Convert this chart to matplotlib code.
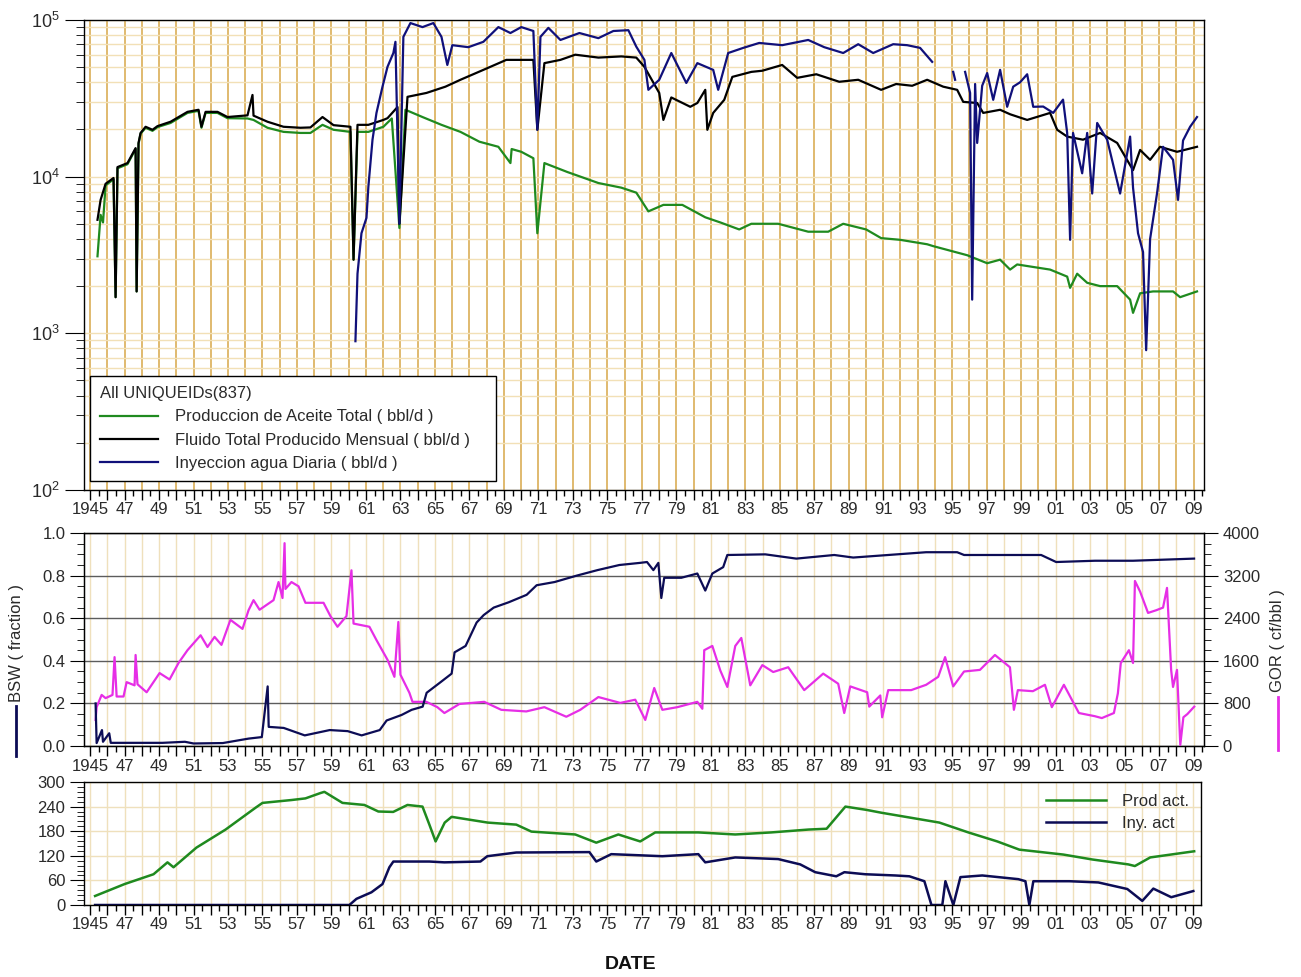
import matplotlib
matplotlib.use("Agg")
import numpy as np
import matplotlib.pyplot as plt
from matplotlib.ticker import MultipleLocator, FuncFormatter, LogLocator, NullFormatter
from matplotlib.lines import Line2D

plt.rcParams['font.family'] = ['Liberation Sans', 'DejaVu Sans']
plt.rcParams['mathtext.default'] = 'regular'

nan = np.nan

# ---- panel 1 : rates (bbl/d), log scale
oil_years = [1945.43, 1945.61, 1945.75, 1945.90, 1946.36, 1946.48, 1946.59, 1947.17, 1947.64, 1947.70,
             1947.81, 1947.93, 1948.22, 1948.62, 1948.91, 1949.67, 1950.65, 1951.29, 1951.46, 1951.70,
             1952.39, 1952.97, 1954.13, 1954.48, 1955.29, 1956.22, 1957.20, 1957.78, 1958.48, 1959.12,
             1960.10, 1960.28, 1960.51, 1961.14, 1962.01, 1962.50, 1962.94, 1963.29, 1964.28, 1965.38,
             1966.48, 1967.58, 1968.68, 1969.38, 1969.45, 1970.01, 1970.71, 1970.94, 1971.35, 1972.68,
             1974.48, 1975.81, 1976.68, 1977.38, 1978.25, 1979.35, 1980.68, 1981.55, 1982.65, 1983.35,
             1984.91, 1986.65, 1987.81, 1988.68, 1990.01, 1990.88, 1991.98, 1993.55, 1993.90, 1995.87,
             1997.03, 1997.78, 1998.36, 1998.77, 1999.70, 2000.68, 2001.67, 2001.84, 2002.25, 2002.83,
             2003.58, 2004.57, 2005.32, 2005.49, 2005.90, 2006.65, 2007.81, 2008.22, 2009.20]
oil_rate = [3100, 5700, 5100, 8800, 9600, 1700, 11300, 12000, 15000, 1850,
            16200, 18800, 20500, 19600, 20700, 22000, 25500, 26300, 20500, 25500,
            25500, 23600, 23500, 23000, 20500, 19300, 19000, 19000, 21400, 19900,
            19300, 2950, 19300, 19300, 20800, 23500, 4700, 26700, 24000, 21400,
            19300, 16700, 15500, 12200, 15000, 14400, 13100, 4350, 12200, 10700,
            9100, 8500, 7900, 6000, 6600, 6600, 5500, 5100, 4600, 5000,
            5000, 4450, 4450, 5000, 4600, 4050, 3950, 3700, 3600, 3150,
            2800, 2950, 2550, 2750, 2650, 2550, 2300, 1950, 2400, 2100,
            2000, 2000, 1640, 1350, 1800, 1850, 1850, 1700, 1850]

fluid_years = [1945.43, 1945.61, 1945.90, 1946.36, 1946.48, 1946.59, 1947.17, 1947.64, 1947.70, 1947.81,
               1947.93, 1948.22, 1948.62, 1948.91, 1949.67, 1950.65, 1951.29, 1951.46, 1951.70, 1952.39,
               1952.97, 1954.13, 1954.42, 1954.48, 1955.29, 1956.22, 1957.20, 1957.78, 1958.48, 1959.12,
               1960.10, 1960.28, 1960.51, 1961.14, 1962.01, 1962.25, 1962.83, 1962.94, 1963.41, 1964.51,
               1965.61, 1966.48, 1967.81, 1969.14, 1970.01, 1970.71, 1970.94, 1971.35, 1972.28, 1973.14,
               1974.48, 1975.81, 1976.68, 1977.15, 1978.01, 1978.25, 1978.71, 1979.81, 1980.22, 1980.68,
               1980.80, 1981.14, 1981.78, 1982.25, 1983.35, 1983.99, 1985.14, 1986.01, 1987.12, 1988.45,
               1989.55, 1990.88, 1991.75, 1992.68, 1993.55, 1994.48, 1995.29, 1995.64, 1996.45, 1996.80,
               1997.78, 1998.36, 1999.35, 2000.68, 2001.09, 2001.67, 2002.59, 2003.58, 2004.57, 2005.49,
               2005.90, 2006.48, 2007.06, 2008.04, 2009.20]
fluid_rate = [5300, 7100, 9000, 9800, 1700, 11500, 12200, 15200, 1850, 16400,
              19000, 20800, 19900, 21000, 22400, 25900, 26700, 20800, 25900, 25900,
              24000, 24600, 33200, 24500, 22400, 20800, 20500, 20600, 24000, 21300,
              20800, 2950, 21400, 21400, 23000, 23600, 27800, 5000, 32300, 34200,
              37500, 41500, 48000, 55600, 55600, 55600, 19900, 53000, 55600, 60000,
              57500, 58500, 57500, 50200, 34200, 23000, 32000, 27900, 29500, 35800,
              19900, 25500, 30900, 43300, 46600, 47400, 51600, 42700, 45000, 40300,
              41500, 35800, 39000, 38000, 41500, 37500, 35800, 30000, 29500, 25500,
              26700, 25000, 23000, 25500, 19900, 18000, 17200, 19000, 16400, 11000,
              14800, 12800, 15500, 14400, 15500]

inj_years = [1960.39, 1960.51, 1960.74, 1961.03, 1961.14, 1961.38, 1961.61, 1961.96, 1962.25, 1962.59,
             1962.71, 1962.94, 1963.17, 1963.58, 1964.28, 1964.91, 1965.38, 1965.72, 1966.01, 1966.94,
             1967.81, 1968.68, 1969.38, 1970.01, 1970.71, 1970.94, 1971.12, 1971.58, 1972.28, 1973.38,
             1974.48, 1975.35, 1976.22, 1976.68, 1977.15, 1977.38, 1978.01, 1978.71, 1979.58, 1980.22,
             1981.14, 1981.43, 1982.01, 1982.88, 1983.81, 1985.14, 1986.65, 1987.58, 1988.68, 1989.55,
             1990.42, 1991.58, 1992.39, 1993.14, 1993.84, nan, 1995.06, 1995.17, nan,
             1995.75, 1996.04, 1996.16, 1996.33, 1996.45, 1996.74, 1997.03, 1997.38, 1997.78, 1998.19,
             1998.54, 1998.94, 1999.35, 1999.70, 2000.28, 2000.86, 2001.43, 2001.67, 2001.84, 2002.01,
             2002.54, 2002.83, 2003.12, 2003.41, 2003.99, 2004.74, 2005.32, 2005.49, 2005.78, 2006.07,
             2006.25, 2006.48, 2006.88, 2007.23, 2007.81, 2008.10, 2008.39, 2008.80, 2009.20]
inj_rate = [890, 2400, 4350, 5450, 8600, 17200, 25500, 37500, 50200, 61500,
            72500, 5000, 78000, 95500, 90000, 95500, 78000, 51600, 69000, 67000,
            72500, 90000, 82500, 90000, 85000, 19900, 78000, 89000, 74500, 82500,
            76500, 85000, 86000, 67500, 55600, 35800, 41500, 61500, 39600, 53000,
            48000, 35800, 61500, 66300, 71300, 69000, 74500, 67000, 61500, 70000,
            61500, 70000, 69000, 66300, 54000, nan, 46600, 41500, nan,
            46600, 34200, 1640, 39000, 16400, 38000, 45800, 30900, 48000, 27900,
            37500, 40000, 45000, 27900, 28000, 25500, 31000, 19000, 3950, 19000,
            10500, 19000, 7800, 22000, 17200, 7800, 18000, 8500, 4350, 3300,
            780, 4000, 7800, 15500, 12800, 7100, 17000, 20800, 24000]

# ---- panel 2 : BSW (fraction) and GOR (cf/bbl)
bsw_years = [1945.32, 1945.38, 1945.69, 1945.75, 1946.11, 1946.20, 1949.20, 1950.50, 1951.00, 1952.70,
             1953.70, 1954.20, 1954.96, 1955.30, 1955.36, 1956.23, 1957.45, 1958.90, 1959.94, 1960.75,
             1961.80, 1962.20, 1963.07, 1963.65, 1964.29, 1964.52, 1965.33, 1965.97, 1966.14, 1966.78,
             1967.42, 1967.83, 1968.41, 1969.28, 1970.32, 1970.90, 1971.94, 1973.22, 1974.43, 1975.70,
             1976.90, 1977.30, 1977.67, 1977.96, 1978.13, 1978.30, 1979.29, 1980.22, 1980.68, 1981.09,
             1981.72, 1981.96, 1984.16, 1985.96, 1988.16, 1989.26, 1993.49, 1995.29, 1995.69, 2000.16,
             2001.03, 2003.29, 2005.49, 2009.03]
bsw = [0.20, 0.014, 0.075, 0.02, 0.06, 0.015, 0.015, 0.02, 0.012, 0.014,
       0.028, 0.035, 0.042, 0.28, 0.09, 0.085, 0.05, 0.075, 0.07, 0.05,
       0.075, 0.12, 0.146, 0.17, 0.185, 0.25, 0.30, 0.34, 0.44, 0.47,
       0.58, 0.615, 0.65, 0.675, 0.71, 0.755, 0.77, 0.80, 0.826, 0.85,
       0.86, 0.864, 0.826, 0.86, 0.695, 0.79, 0.79, 0.81, 0.73, 0.81,
       0.84, 0.897, 0.90, 0.88, 0.897, 0.885, 0.91, 0.91, 0.897, 0.897,
       0.864, 0.87, 0.87, 0.88]

gor_years = [1945.32, 1945.38, 1945.67, 1945.90, 1946.30, 1946.42, 1946.54, 1946.94, 1947.12, 1947.58,
             1947.64, 1947.75, 1948.28, 1949.03, 1949.61, 1950.13, 1950.65, 1951.41, 1951.81, 1952.22,
             1952.62, 1953.14, 1953.84, 1954.19, 1954.48, 1954.83, 1955.64, 1955.93, 1956.16, 1956.28,
             1956.33, 1956.68, 1957.09, 1957.49, 1958.54, 1958.94, 1959.35, 1959.87, 1960.16, 1960.28,
             1961.20, 1961.61, 1962.25, 1962.65, 1962.88, 1963.00, 1963.52, 1963.70, 1964.51, 1965.14,
             1965.55, 1966.42, 1967.86, 1968.85, 1970.30, 1971.35, 1972.62, 1973.43, 1974.48, 1975.75,
             1976.62, 1977.20, 1977.72, 1978.19, 1979.06, 1980.22, 1980.51, 1980.62, 1981.09, 1981.55,
             1981.96, 1982.42, 1982.77, 1983.29, 1983.99, 1984.62, 1985.49, 1986.42, 1987.52, 1988.39,
             1988.74, 1989.09, 1990.07, 1990.19, 1990.83, 1990.94, 1991.29, 1992.62, 1993.49, 1994.19,
             1994.59, 1995.06, 1995.69, 1996.61, 1997.48, 1998.35, 1998.58, 1998.81, 1999.68, 2000.38,
             2000.78, 2001.48, 2002.35, 2003.28, 2003.68, 2004.38, 2004.61, 2004.78, 2005.25, 2005.49,
             2005.60, 2005.90, 2006.36, 2006.83, 2007.23, 2007.46, 2007.70, 2007.81, 2008.04, 2008.23,
             2008.41, 2008.64, 2009.04]
gor = [490, 730, 960, 900, 960, 1670, 930, 930, 1200, 1140,
       1710, 1160, 1010, 1370, 1250, 1560, 1800, 2080, 1860, 2050,
       1900, 2370, 2200, 2550, 2740, 2560, 2740, 3080, 2780, 3810,
       2950, 3080, 3000, 2690, 2690, 2440, 2240, 2440, 3300, 2300,
       2240, 1990, 1620, 1300, 2330, 1340, 1000, 830, 830, 730,
       620, 790, 830, 680, 650, 730, 550, 680, 920, 810,
       870, 490, 1090, 680, 730, 830, 700, 1800, 1880, 1420,
       1110, 1880, 2030, 1140, 1520, 1390, 1480, 1050, 1360, 1170,
       620, 1120, 1010, 740, 950, 540, 1050, 1050, 1150, 1300,
       1670, 1120, 1400, 1430, 1710, 1480, 680, 1050, 1030, 1150,
       730, 1150, 620, 560, 525, 620, 990, 1560, 1800, 1560,
       3100, 2900, 2500, 2550, 2600, 2970, 1430, 1110, 1430, 20,
       540, 600, 740]

# ---- panel 3 : active wells
prod_years = [1945.29, 1947.00, 1948.68, 1949.49, 1949.84, 1951.17, 1952.86, 1954.59, 1955.00, 1956.68,
              1957.49, 1958.36, 1958.59, 1959.64, 1960.91, 1961.72, 1962.58, 1963.41, 1964.28, 1964.68,
              1965.04, 1965.57, 1965.97, 1968.06, 1969.72, 1970.60, 1973.14, 1974.36, 1975.64, 1976.91,
              1977.78, 1980.28, 1982.42, 1984.51, 1986.67, 1987.72, 1988.81, 1990.03, 1990.90, 1992.58,
              1994.26, 1995.94, 1997.62, 1998.90, 2001.45, 2003.13, 2005.22, 2005.60, 2006.49, 2009.04]
prod_act = [22, 51, 75, 104, 92, 140, 184, 237, 249, 256,
            260, 273, 276, 249, 244, 228, 227, 244, 240, 196,
            155, 201, 215, 201, 196, 179, 172, 152, 172, 155,
            177, 177, 172, 177, 184, 186, 240, 232, 225, 213,
            201, 177, 155, 135, 123, 111, 99, 95, 116, 131]

iny_years = [1945.29, 1960.04, 1960.45, 1961.32, 1961.96, 1962.36, 1962.59, 1964.68, 1965.55, 1967.64,
             1968.04, 1969.72, 1973.96, 1974.36, 1975.23, 1978.19, 1980.28, 1980.68, 1982.42, 1984.91,
             1986.19, 1987.06, 1988.28, 1988.75, 1989.96, 1991.71, 1992.52, 1993.39, 1993.80, 1994.43,
             1994.61, 1995.07, 1995.48, 1996.75, 1998.84, 1999.25, 1999.48, 1999.71, 2001.80, 2003.48,
             2005.16, 2006.03, 2006.67, 2007.71, 2008.99]
iny_act = [0, 0, 15, 31, 51, 92, 106, 106, 104, 106,
           119, 128, 129, 106, 124, 119, 124, 104, 116, 112,
           99, 80, 70, 80, 75, 72, 70, 58, 0, 0,
           58, 0, 68, 72, 63, 58, 0, 58, 58, 55,
           39, 10, 40, 19, 34]

# colores
GREEN = '#1f8a1f'
NAVY = '#10107a'
DARKNAVY = '#0c0c55'
MAGENTA = '#e62ee6'
GRID_DARK = '#ddb463'
GRID_LIGHT = '#efe0bc'
TXT = '#2a2a2a'


def year_label(v, pos):
    y = int(round(v))
    if y % 2 == 0:
        return ''
    if y == 1945:
        return '1945'
    return '%02d' % (y % 100)


def setup_xaxis(ax, xmax, gridcolor, gridlw):
    ax.set_xlim(1944.65, xmax)
    ax.xaxis.set_major_locator(MultipleLocator(1))
    ax.xaxis.set_minor_locator(MultipleLocator(0.5))
    ax.xaxis.set_major_formatter(FuncFormatter(year_label))
    ax.tick_params(axis='x', which='major', direction='out', length=7, width=1,
                   labelsize=12, labelcolor=TXT, pad=2)
    ax.tick_params(axis='x', which='minor', direction='out', length=4, width=1)
    ax.grid(True, axis='x', which='major', color=gridcolor, lw=gridlw)
    for s in ax.spines.values():
        s.set_color('black')
        s.set_linewidth(1.0)
    ax.set_axisbelow(True)


fig = plt.figure(figsize=(13.01, 9.77), dpi=100)

# ---------------- top panel
ax1 = fig.add_axes([0.0646, 0.4985, 0.8609, 0.4811])
ax1.set_yscale('log')
ax1.set_ylim(100, 100000)
ax1.plot(oil_years, oil_rate, color=GREEN, lw=1.6, label='Produccion de Aceite Total ( bbl/d )')
ax1.plot(fluid_years, fluid_rate, color='black', lw=1.6, label='Fluido Total Producido Mensual ( bbl/d )')
ax1.plot(inj_years, inj_rate, color=NAVY, lw=1.6, label='Inyeccion agua Diaria ( bbl/d )')
setup_xaxis(ax1, 2009.61, GRID_DARK, 1.3)
ax1.yaxis.set_major_locator(LogLocator(base=10))
ax1.yaxis.set_minor_locator(LogLocator(base=10, subs=range(2, 10)))
ax1.yaxis.set_major_formatter(FuncFormatter(lambda v, p: r'$10^{%d}$' % round(np.log10(v))))
ax1.yaxis.set_minor_formatter(NullFormatter())
ax1.tick_params(axis='y', which='major', direction='out', length=14, labelsize=13, labelcolor=TXT)
ax1.tick_params(axis='y', which='minor', direction='out', length=6)
ax1.grid(True, axis='y', which='both', color='#f2e0b6', lw=1.0)

leg = ax1.legend(title='All UNIQUEIDs(837)', loc='lower left',
                 bbox_to_anchor=(0.0054, 0.019, 0.3625, 0.2), mode='expand', borderaxespad=0,
                 frameon=True, fancybox=False, edgecolor='black', framealpha=1,
                 fontsize=12, title_fontsize=12, handlelength=3.5, handletextpad=1.0,
                 labelspacing=0.5, borderpad=0.6, alignment='left')
leg.get_frame().set_linewidth(1.0)
for t in leg.get_texts():
    t.set_color(TXT)
leg.get_title().set_color(TXT)

# ---------------- middle panel
ax2 = fig.add_axes([0.0646, 0.2364, 0.8609, 0.2180])
ax2.set_ylim(0, 1.0)
setup_xaxis(ax2, 2009.61, GRID_LIGHT, 1.0)
ax2.yaxis.set_major_locator(MultipleLocator(0.2))
ax2.yaxis.set_minor_locator(MultipleLocator(0.05))
ax2.yaxis.set_major_formatter(FuncFormatter(lambda v, p: '%.1f' % v))
ax2.tick_params(axis='y', which='major', direction='out', length=10, labelsize=12, labelcolor=TXT)
ax2.tick_params(axis='y', which='minor', direction='out', length=5)
ax2.grid(True, axis='y', which='major', color='#5c5c5c', lw=1.0)

ax2r = ax2.twinx()
ax2r.set_ylim(0, 4000)
ax2r.yaxis.set_major_locator(MultipleLocator(800))
ax2r.yaxis.set_minor_locator(MultipleLocator(200))
ax2r.tick_params(axis='y', which='major', direction='out', length=10, labelsize=12, labelcolor=TXT)
ax2r.tick_params(axis='y', which='minor', direction='out', length=5)
ax2r.plot(gor_years, gor, color=MAGENTA, lw=1.6)
ax2r.plot(bsw_years, np.array(bsw) * 4000, color=DARKNAVY, lw=1.6)

fig.text(0.0123, 0.2815, 'BSW ( fraction )', rotation=90, ha='center', va='bottom',
         fontsize=12, color=TXT)
fig.add_artist(Line2D([0.0123, 0.0123], [0.2262, 0.2774], color=DARKNAVY, lw=2.0))
fig.text(0.9823, 0.2917, 'GOR ( cf/bbl )', rotation=90, ha='center', va='bottom',
         fontsize=12, color=TXT)
fig.add_artist(Line2D([0.9823, 0.9823], [0.2323, 0.2866], color=MAGENTA, lw=2.0))

# ---------------- bottom panel
ax3 = fig.add_axes([0.0646, 0.0737, 0.8586, 0.1259])
ax3.set_ylim(0, 300)
setup_xaxis(ax3, 2009.44, GRID_LIGHT, 1.0)
ax3.yaxis.set_major_locator(MultipleLocator(60))
ax3.yaxis.set_minor_locator(MultipleLocator(12))
ax3.tick_params(axis='y', which='major', direction='out', length=10, labelsize=12, labelcolor=TXT)
ax3.tick_params(axis='y', which='minor', direction='out', length=5)
ax3.grid(True, axis='y', which='major', color=GRID_LIGHT, lw=1.0)
ax3.plot(prod_years, prod_act, color=GREEN, lw=1.8, label='Prod act.')
ax3.plot(iny_years, iny_act, color=DARKNAVY, lw=1.8, label='Iny. act')
leg3 = ax3.legend(loc='upper right', frameon=False, fontsize=12, handlelength=3.6,
                  handletextpad=1.0, labelspacing=0.45, borderaxespad=0.3)
for t in leg3.get_texts():
    t.set_color(TXT)

fig.text(0.485, 0.0123, 'DATE', ha='center', va='center', fontsize=14,
         fontweight='bold', color='#111111')

fig.savefig('out.png', dpi=100, facecolor='white')
